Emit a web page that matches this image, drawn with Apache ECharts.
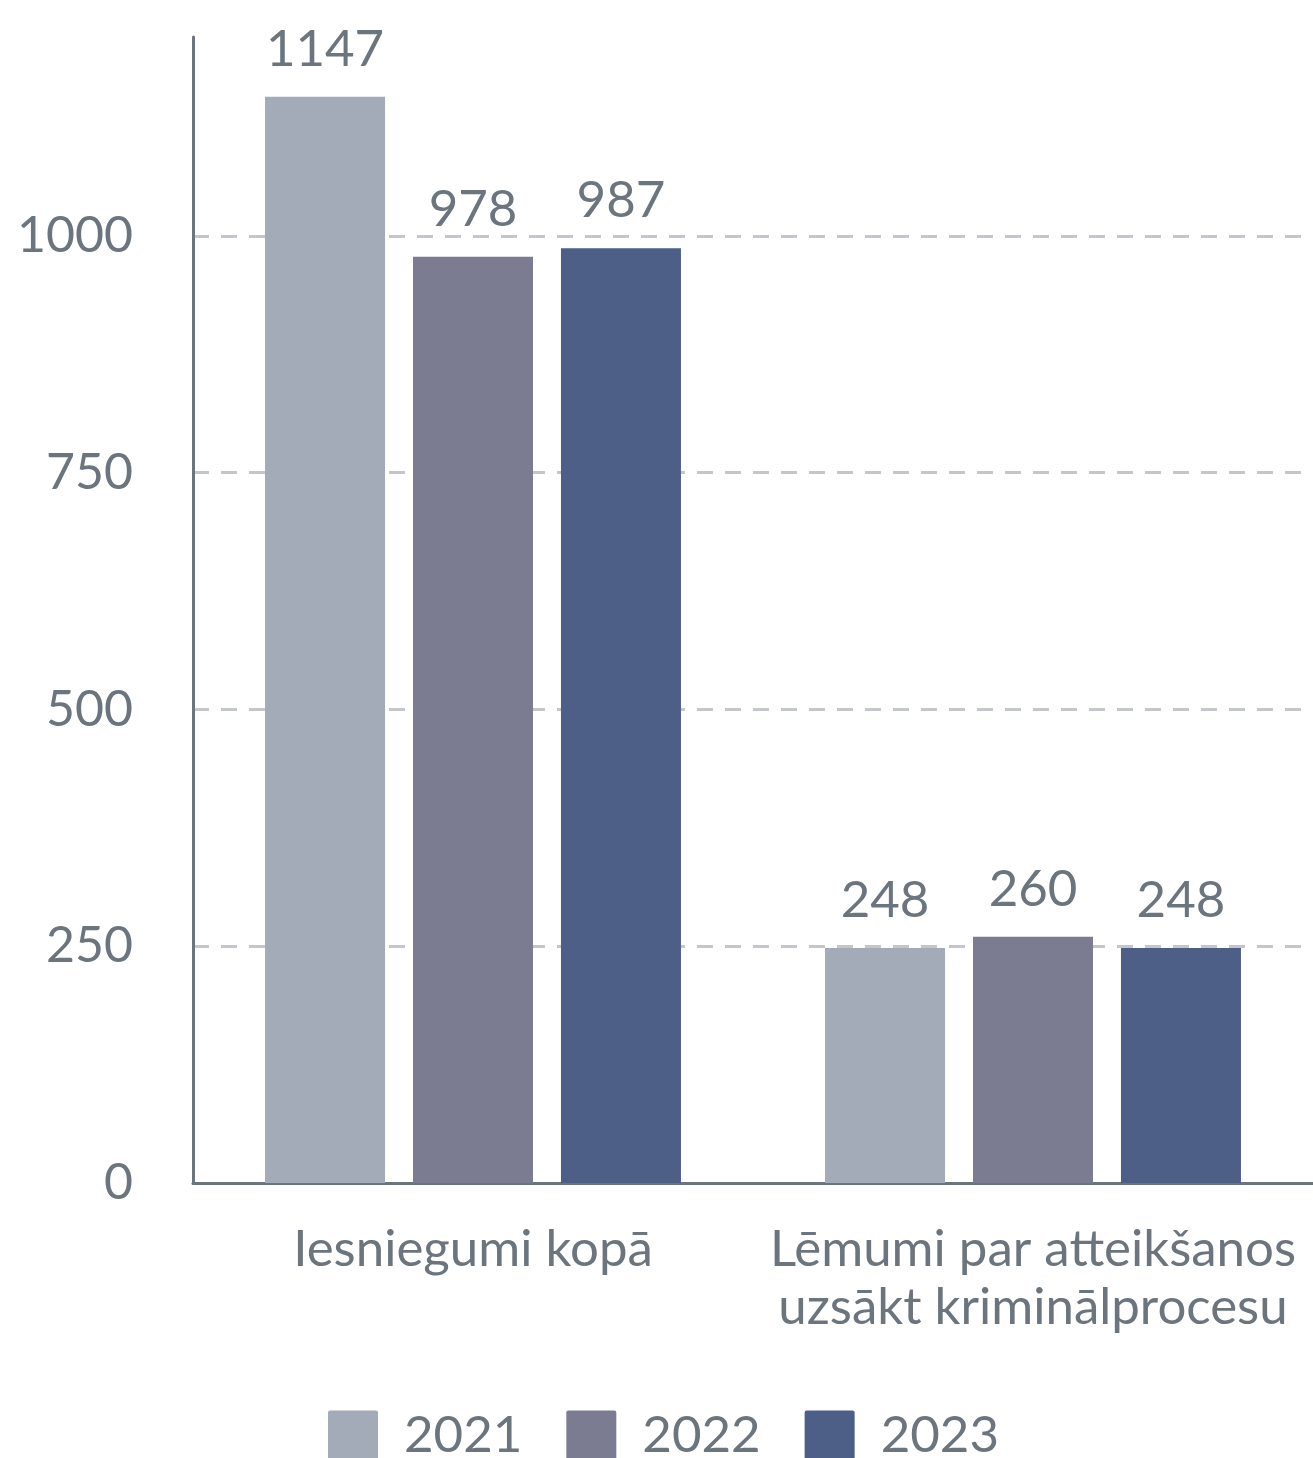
<!DOCTYPE html>
<html><head><meta charset="utf-8">
<script src="https://cdn.jsdelivr.net/npm/echarts@6/dist/echarts.min.js"></script>
<style>html,body{margin:0;padding:0;background:#fff}#c{width:1313px;height:1458px}</style>
</head><body><div id="c"></div>
<script>
const categories = ['Iesniegumi kopā', 'Lēmumi par atteikšanos\nuzsākt kriminālprocesu'];
const years = ['2021', '2022', '2023'];
const v2021 = [1147, 248];
const v2022 = [978, 260];
const v2023 = [987, 248];
const colors = ['#a3aab8', '#7b7c91', '#4d5e87'];
const textColor = '#6c757d';
const font = 'Lato';

const chart = echarts.init(document.getElementById('c'));
const mk = (name, data, color) => ({
  name, type: 'bar', data, barWidth: 120, barGap: '23.3%',
  itemStyle: { color },
  label: { show: true, position: 'top', distance: 22, color: textColor, fontFamily: font, fontSize: 51 }
});
chart.setOption({
  animation: false,
  textStyle: { fontFamily: font },
  grid: { left: 193, right: -2, top: 37, bottom: 275, containLabel: false },
  legend: {
    bottom: -3, left: 328, padding: 0, itemWidth: 50, itemHeight: 50, itemGap: 44,
    icon: 'path://M2,0 H48 Q50,0 50,2 V48 Q50,50 48,50 H2 Q0,50 0,48 V2 Q0,0 2,0 Z',
    textStyle: { color: textColor, fontFamily: font, fontSize: 51, padding: [0, 0, 0, 21] },
    data: years
  },
  xAxis: {
    type: 'category', data: categories,
    axisLine: { lineStyle: { color: textColor, width: 3 } },
    axisTick: { show: false },
    axisLabel: { color: textColor, fontFamily: font, fontSize: 51, margin: 38, lineHeight: 58, interval: 0 }
  },
  yAxis: {
    type: 'value', min: 0, max: 1210, interval: 250,
    axisLine: { show: true, lineStyle: { color: textColor, width: 3 } },
    axisTick: { show: false },
    axisLabel: { color: textColor, fontFamily: font, fontSize: 50, margin: 60, showMaxLabel: false,
      formatter: v => String(v) },
    splitLine: { showMaxLine: false, lineStyle: { color: '#c3c6ca', width: 3, type: [16, 12] } }
  },
  series: [mk(years[0], v2021, colors[0]), mk(years[1], v2022, colors[1]), mk(years[2], v2023, colors[2])]
});
</script></body></html>
